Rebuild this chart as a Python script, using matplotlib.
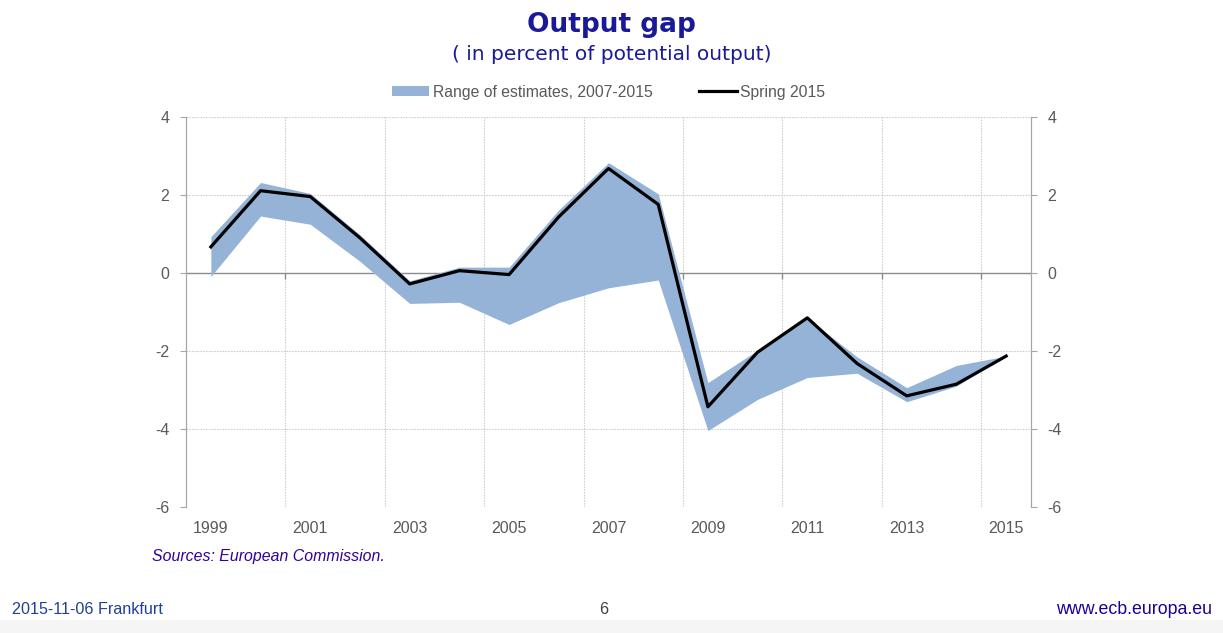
import numpy as np
import matplotlib.pyplot as plt
from matplotlib.patches import Patch, Rectangle
from matplotlib.lines import Line2D

years = list(range(1999, 2016))
# Spring 2015 estimate
spring = [0.67, 2.11, 1.96, 0.90, -0.28, 0.06, -0.04, 1.44, 2.68, 1.76,
          -3.43, -2.03, -1.15, -2.32, -3.15, -2.85, -2.13]
# range of estimates 2007-2015
upper = [0.93, 2.32, 2.04, 0.98, -0.20, 0.15, 0.15, 1.62, 2.83, 2.03,
         -2.81, -1.98, -1.15, -2.15, -2.94, -2.37, -2.13]
lower = [-0.09, 1.46, 1.25, 0.30, -0.78, -0.75, -1.32, -0.76, -0.38, -0.18,
         -4.04, -3.24, -2.68, -2.57, -3.30, -2.90, -2.13]

tick_years = years[::2]
y_ticks = [4, 2, 0, -2, -4, -6]

fill_col = '#95B3D7'
grey = '#595959'
navy = '#1a1a99'

plt.rcParams['font.family'] = ['Liberation Sans', 'DejaVu Sans']
plt.rcParams['axes.unicode_minus'] = False

fig = plt.figure(figsize=(12.23, 6.33), dpi=100)
ax = fig.add_axes([186 / 1223, 1 - 507 / 633, (1031 - 186) / 1223, (507 - 117) / 633])

ax.fill_between(years, lower, upper, color=fill_col, linewidth=0, zorder=2)
ax.plot(years, spring, color='black', linewidth=2.3, zorder=3)

ax.set_xlim(years[0] - 0.5, years[-1] + 0.5)
ax.set_ylim(-6, 4)

# grid at category boundaries and y ticks
grid_kw = dict(color='#cfcfcf', linewidth=0.8, linestyle=(0, (1.5, 1)), zorder=1)
bounds = np.arange(years[0] + 1.5, years[-1], 2)
for b in bounds:
    ax.axvline(b, **grid_kw)
for t in y_ticks:
    if t != 0:
        ax.axhline(t, **grid_kw)
ax.axhline(0, color='#8c8c8c', linewidth=1.0, zorder=1.5)
ax.plot(bounds, np.zeros(len(bounds)), linestyle='none', marker=3,
        markersize=4, color='#8c8c8c', zorder=1.5)

ax.set_xticks(tick_years)
ax.set_xticklabels([str(y) for y in tick_years])
ax.set_yticks(y_ticks)
ax.tick_params(axis='x', length=0, pad=10, labelsize=11.5, labelcolor=grey)
ax.tick_params(axis='y', length=4, color='#a6a6a6', pad=8, labelsize=11.5,
               labelcolor=grey, direction='out')

ax2 = ax.twinx()
ax2.set_ylim(-6, 4)
ax2.set_yticks(y_ticks)
ax2.tick_params(axis='y', length=4, color='#a6a6a6', pad=8, labelsize=11.5,
                labelcolor=grey, direction='out')

for a in (ax, ax2):
    a.spines['top'].set_visible(False)
    a.spines['bottom'].set_visible(False)
    a.spines['left'].set_color('#a6a6a6')
    a.spines['right'].set_color('#a6a6a6')

handles = [Patch(facecolor=fill_col, edgecolor='none'),
           Line2D([0], [0], color='black', linewidth=2.3)]
ax.legend(handles, ['Range of estimates, 2007-2015', 'Spring 2015'],
          loc='center', bbox_to_anchor=(0.5, 1 + 25 / 390), ncol=2, frameon=False,
          fontsize=11.3, labelcolor=grey, handlelength=2.4, handletextpad=0.2,
          columnspacing=3.0, handleheight=0.6)

fig.text(0.5, 1 - 25 / 633, 'Output gap', ha='center', va='center',
         fontsize=19, fontweight='bold', color=navy, family=['DejaVu Sans'])
fig.text(0.5, 1 - 54 / 633, '( in percent of potential output)', ha='center',
         va='center', fontsize=14.5, color=navy, family=['DejaVu Sans'])

fig.text(152 / 1223, 1 - 557 / 633, 'Sources: European Commission.', ha='left',
         va='center', fontsize=11.4, style='italic', color='#330099')

fig.text(12 / 1223, 1 - 609 / 633, '2015-11-06 Frankfurt', ha='left', va='center',
         fontsize=11.6, color='#1f3f99')
fig.text(604 / 1223, 1 - 609 / 633, '6', ha='center', va='center',
         fontsize=11.6, color='#404040')
fig.text(1212 / 1223, 1 - 609 / 633, 'www.ecb.europa.eu', ha='right', va='center',
         fontsize=12.8, color='#1a0099')

fig.patches.append(Rectangle((0, 0), 1, 13 / 633, transform=fig.transFigure,
                             facecolor='#f5f5f5', edgecolor='none', zorder=0))

fig.savefig('out.png', dpi=100)
